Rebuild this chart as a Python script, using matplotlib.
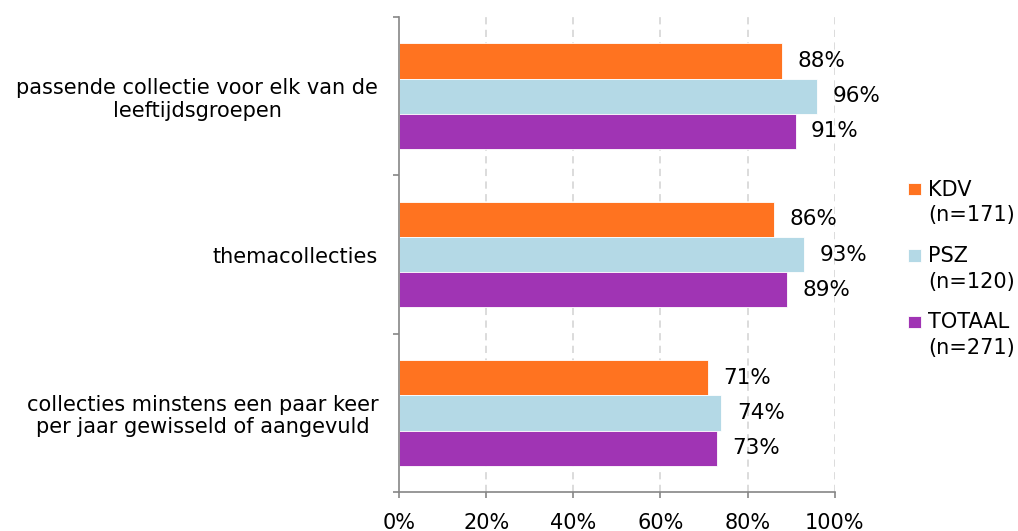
import matplotlib
matplotlib.use("Agg")
import matplotlib.pyplot as plt
from matplotlib.container import BarContainer
from matplotlib.legend_handler import HandlerPatch, update_from_first_child
from matplotlib.patches import Rectangle
import numpy as np

categories = [
    "passende collectie voor elk van de\nleeftijdsgroepen",
    "themacollecties",
    "collecties minstens een paar keer\nper jaar gewisseld of aangevuld",
]
series_names = ["KDV\n(n=171)", "PSZ\n(n=120)", "TOTAAL\n(n=271)"]
kdv = [88, 86, 71]
psz = [96, 93, 74]
totaal = [91, 89, 73]
x_ticks = [0, 20, 40, 60, 80, 100]

COLORS = ["#FF7320", "#B4D9E6", "#A034B4"]
AXIS = "#868686"
GRID = "#D9D9D9"
FS = 15


def top_square(legend, orig_handle, xdescent, ydescent, width, height, fontsize):
    # square next to the first line of a two-line label
    s = 0.58 * fontsize
    return Rectangle((-xdescent, -ydescent + height - 0.45 * fontsize), s, s)


fig = plt.figure(figsize=(10.18, 5.31), dpi=100)
ax = fig.add_axes([0.392, 0.0734, 0.428, 0.8946])

y = np.arange(len(categories))
bh = 0.223
for i, (vals, name, col) in enumerate(zip([kdv, psz, totaal], series_names, COLORS)):
    pos = y + (i - 1) * bh
    ax.barh(pos, vals, height=bh, color=col, edgecolor="white", linewidth=0.6,
            label=name, zorder=2)
    for p, v in zip(pos, vals):
        ax.annotate(f"{v}%", (v, p), xytext=(11, 0), textcoords="offset points",
                    ha="left", va="center", fontsize=15.5, color="black")

ax.set_xlim(0, 100)
ax.set_ylim(len(categories) - 0.5, -0.5)
ax.set_xticks(x_ticks)
ax.set_xticklabels([f"{t}%" for t in x_ticks], fontsize=FS)
ax.set_yticks(y)
ax.set_yticklabels(categories, fontsize=FS, multialignment="center",
                   linespacing=1.15)
ax.set_yticks(np.arange(-0.5, len(categories)), minor=True)
ax.tick_params(axis="y", which="major", length=0, pad=15)
ax.tick_params(axis="y", which="minor", length=4, color=AXIS, width=1.2)
ax.tick_params(axis="x", length=4, color=AXIS, width=1.2, pad=11)

for t in x_ticks[1:]:
    ax.axvline(t, color=GRID, linestyle=(0, (4, 3)), linewidth=1.3, zorder=0)

for s in ["top", "right"]:
    ax.spines[s].set_visible(False)
for s in ["left", "bottom"]:
    ax.spines[s].set_color(AXIS)
    ax.spines[s].set_linewidth(1.2)

handler = HandlerPatch(patch_func=top_square, update_func=update_from_first_child)
leg = ax.legend(loc="center left", bbox_to_anchor=(1.15, 0.47), frameon=False,
                fontsize=FS, handlelength=0.75, handleheight=2.3,
                handletextpad=0.2, labelspacing=1.0, borderaxespad=0,
                handler_map={BarContainer: handler})
for t in leg.get_texts():
    t.set_linespacing(1.35)

fig.savefig("out.png", dpi=100, facecolor="white")
